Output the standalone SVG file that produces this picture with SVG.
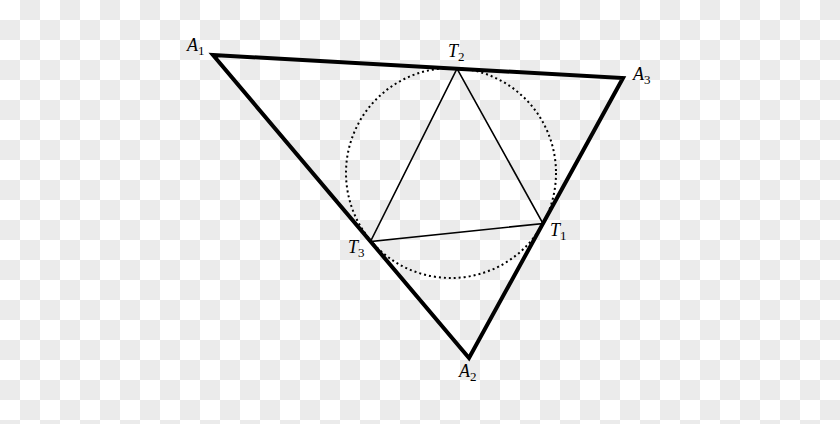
<svg xmlns="http://www.w3.org/2000/svg" width="840" height="424" viewBox="0 0 840 424">
<defs>
<pattern id="chk" width="40" height="40" patternUnits="userSpaceOnUse">
<rect width="40" height="40" fill="#ffffff"/>
<rect x="20" y="0" width="20" height="20" fill="#ebebeb"/>
<rect x="0" y="20" width="20" height="20" fill="#ebebeb"/>
</pattern>
<style>
.lbl{font-family:"Liberation Serif","Times New Roman",serif;font-style:italic;font-size:18px;fill:#000}
.sub{font-style:normal;font-size:13px}
.outer{fill:none;stroke:#000;stroke-width:4;stroke-linejoin:miter}
.inner{fill:none;stroke:#000;stroke-width:1.6}
.circ{fill:none;stroke:#000;stroke-width:2;stroke-dasharray:2 3}
</style>
</defs>
<rect width="840" height="424" fill="url(#chk)"/>
<g id="incircle"><circle class="circ" cx="451" cy="173" r="105"/></g>
<g id="connectors">
<polygon class="outer" points="213,55 623,78 469,358"/>
<polygon class="inner" points="457,68.7 543,223.5 370.5,241.5"/>
</g>
<g id="A1"><text class="lbl" x="187" y="51">A<tspan class="sub" dy="4">1</tspan></text></g>
<g id="A2"><text class="lbl" x="459" y="377">A<tspan class="sub" dy="4">2</tspan></text></g>
<g id="A3"><text class="lbl" x="633" y="80">A<tspan class="sub" dy="4">3</tspan></text></g>
<g id="T1"><text class="lbl" x="550" y="236">T<tspan class="sub" dy="4">1</tspan></text></g>
<g id="T2"><text class="lbl" x="448" y="57">T<tspan class="sub" dy="4">2</tspan></text></g>
<g id="T3"><text class="lbl" x="348" y="253">T<tspan class="sub" dy="4">3</tspan></text></g>
</svg>
